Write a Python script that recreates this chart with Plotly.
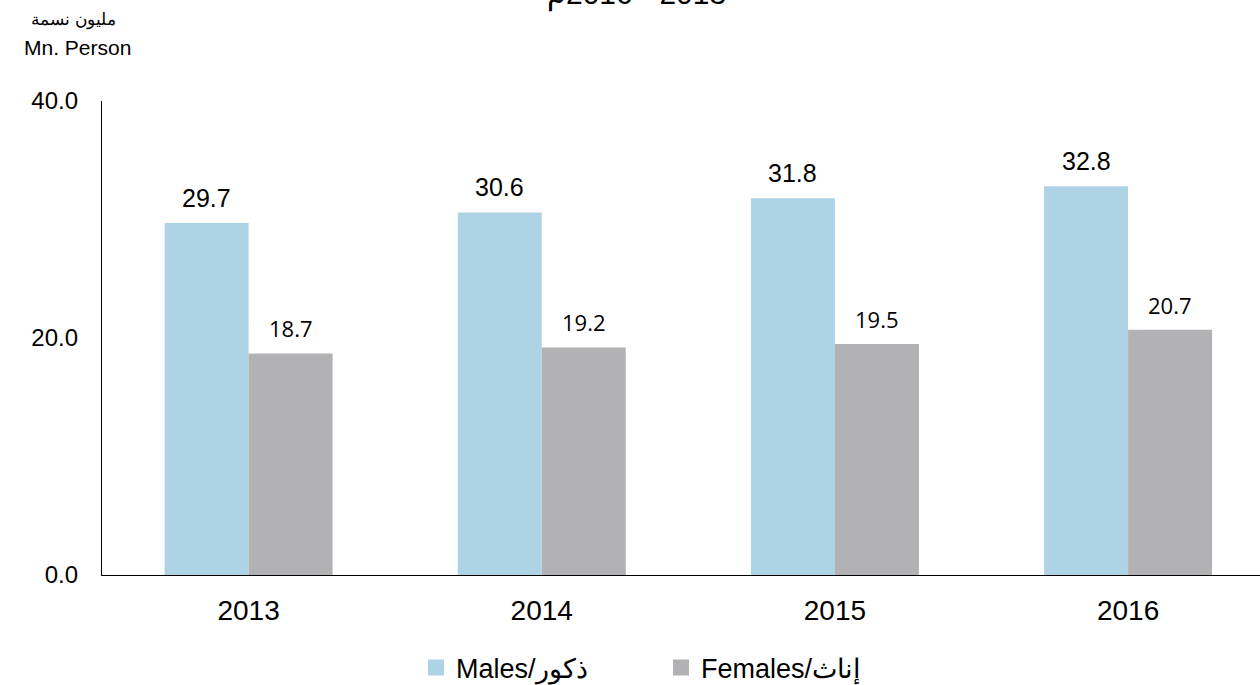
import plotly.graph_objects as go

years = ["2013", "2014", "2015", "2016"]
males = [29.7, 30.6, 31.8, 32.8]
females = [18.7, 19.2, 19.5, 20.7]
y_ticks = [0, 20, 40]
y_tick_labels = ["0.0", "20.0", "40.0"]
male_name = "Males/ذكور"
female_name = "Females/إناث"
unit_ar = "مليون نسمة"
unit_en = "Mn. Person"
title_text = "\u202Dم2016 - 2013\u202C"

male_color = "#AED3E5"
female_color = "#B2B2B4"
FONT = "Liberation Sans, Arial"

fig = go.Figure()
fig.add_trace(go.Bar(x=years, y=males, name=male_name, marker_color=male_color,
                     marker_line_width=0, showlegend=False))
fig.add_trace(go.Bar(x=years, y=females, name=female_name, marker_color=female_color,
                     marker_line_width=0, showlegend=False))
# legend entries with square swatches
fig.add_trace(go.Scatter(x=[None], y=[None], mode="markers", name=male_name,
                         marker=dict(symbol="square", size=17, color=male_color)))
fig.add_trace(go.Scatter(x=[None], y=[None], mode="markers", name=female_name,
                         marker=dict(symbol="square", size=17, color=female_color)))

H = 474  # plot height in px
annotations = []
for i in range(len(years)):
    annotations.append(dict(x=i, y=males[i], xref="x", yref="y", text=f"{males[i]:.1f}",
                            showarrow=False, xshift=-42, yshift=25,
                            font=dict(family=FONT, size=25, color="#000")))
    annotations.append(dict(x=i, y=females[i], xref="x", yref="y", text=f"{females[i]:.1f}",
                            showarrow=False, xshift=42, yshift=25,
                            font=dict(family="Open Sans", size=22, color="#000")))

annotations += [
    dict(x=(73 - 102) / 1158, xref="paper", xanchor="center",
         y=1 + (101 - 20) / H, yref="paper", yanchor="middle",
         text=unit_ar, showarrow=False,
         font=dict(family=FONT, size=17, color="#000")),
    dict(x=(77 - 102) / 1158, xref="paper", xanchor="center",
         y=1 + (101 - 47) / H, yref="paper", yanchor="middle",
         text=unit_en, showarrow=False,
         font=dict(family=FONT, size=21, color="#000")),
    dict(x=(636 - 102) / 1158, xref="paper", xanchor="center",
         y=1 + (101 - 14) / H, yref="paper", yanchor="bottom",
         text=title_text, showarrow=False,
         font=dict(family=FONT, size=30, color="#000")),
]

fig.update_layout(
    width=1260, height=685,
    paper_bgcolor="white", plot_bgcolor="white",
    margin=dict(l=102, r=0, t=101, b=110),
    barmode="group", bargap=0.427, bargroupgap=0,
    showlegend=True,
    legend=dict(orientation="h", x=416 / 1260, xanchor="left", xref="container",
                y=17 / 685, yref="container", yanchor="middle",
                font=dict(family=FONT, size=27, color="#000"),
                itemwidth=30, entrywidth=200, entrywidthmode="pixels"),
    annotations=annotations,
    xaxis=dict(type="category", range=[-0.5, 3.45], showgrid=False,
               showline=True, linecolor="#000", linewidth=1.3,
               tickfont=dict(family=FONT, size=28, color="#000"),
               ticks="", ticklabelstandoff=10),
    yaxis=dict(range=[0, 40], tickvals=y_ticks, ticktext=y_tick_labels, showgrid=False,
               showline=True, linecolor="#000", linewidth=1.3, zeroline=False,
               tickfont=dict(family=FONT, size=24, color="#000"),
               ticks="", ticklabelstandoff=18),
)

fig.write_html("out.html", config={"displayModeBar": False},
               post_script="document.body.style.margin='0';document.body.style.overflow='hidden';")
